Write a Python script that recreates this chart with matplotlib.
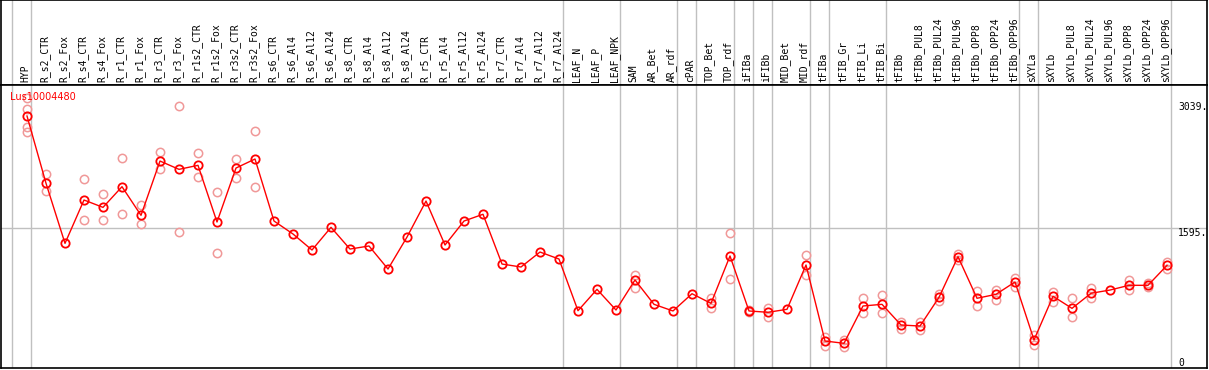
import matplotlib
matplotlib.use('Agg')
import matplotlib.pyplot as plt

# sample names (column headers)
samples = ['HYP', 'R_s2_CTR', 'R_s2_Fox', 'R_s4_CTR', 'R_s4_Fox', 'R_r1_CTR', 'R_r1_Fox',
           'R_r3_CTR', 'R_r3_Fox', 'R_r1s2_CTR', 'R_r1s2_Fox', 'R_r3s2_CTR', 'R_r3s2_Fox',
           'R_s6_CTR', 'R_s6_Al4', 'R_s6_Al12', 'R_s6_Al24', 'R_s8_CTR', 'R_s8_Al4', 'R_s8_Al12',
           'R_s8_Al24', 'R_r5_CTR', 'R_r5_Al4', 'R_r5_Al12', 'R_r5_Al24', 'R_r7_CTR', 'R_r7_Al4',
           'R_r7_Al12', 'R_r7_Al24', 'LEAF_N', 'LEAF_P', 'LEAF_NPK', 'SAM', 'AR_Bet', 'AR_rdf',
           'cPAR', 'TOP_Bet', 'TOP_rdf', 'iFIBa', 'iFIBb', 'MID_Bet', 'MID_rdf', 'tFIBa',
           'tFIB_Gr', 'tFIB_Li', 'tFIB_Bi', 'tFIBb', 'tFIBb_PUL8', 'tFIBb_PUL24', 'tFIBb_PUL96',
           'tFIBb_OPP8', 'tFIBb_OPP24', 'tFIBb_OPP96', 'sXYLa', 'sXYLb', 'sXYLb_PUL8',
           'sXYLb_PUL24', 'sXYLb_PUL96', 'sXYLb_OPP8', 'sXYLb_OPP24', 'sXYLb_OPP96']

# mean expression per sample
mean_expr = [2877, 2109, 1423, 1918, 1834, 2070, 1743, 2363, 2268, 2314, 1667, 2283, 2386,
             1678, 1530, 1347, 1606, 1358, 1393, 1130, 1495, 1906, 1404, 1678, 1755, 1187, 1153,
             1324, 1244, 654, 898, 662, 1005, 727, 651, 848, 738, 1279, 651, 636, 670, 1176,
             308, 282, 708, 727, 491, 479, 807, 1271, 796, 841, 982, 320, 819, 681, 853, 890,
             944, 944, 1172]

# individual replicates
replicates = [[3079, 2957, 2751, 2694], [2211, 2017], [], [2158, 1690], [1983, 1686],
              [2394, 1755], [1857, 1640], [2462, 2268], [2988, 1549], [2451, 2177],
              [2006, 1313], [2383, 2173], [2702, 2063],
              [], [], [], [], [], [], [], [], [], [], [], [], [], [], [], [],
              [], [], [], [1062, 917], [], [], [], [803, 681], [1538, 1013], [662, 640],
              [681, 586], [], [1290, 1058], [357, 255], [320, 243], [796, 624], [833, 624],
              [529, 442], [529, 434], [845, 765], [1301, 1233], [883, 708], [890, 776],
              [1024, 928], [377, 263], [871, 757], [796, 579], [910, 796], [], [1005, 890],
              [974, 921], [1214, 1127]]

# group separators (after these columns)
separators = [-1, 0, 28, 31, 34, 35, 37, 38, 39, 41, 42, 45, 52, 53, 60]
y_ticks = [3039, 1595, 0]
gene = 'Lus10004480'

W, H = 1209, 370
fig = plt.figure(figsize=(W / 100, H / 100), dpi=100)
fig.patch.set_facecolor('white')

x0 = -26 / 19
x1 = (1207 - 27) / 19
# header axes (0..85 px), plot axes (85..368 px)
axh = fig.add_axes([1 / W, (H - 85) / H, 1206 / W, 85 / H])
ax = fig.add_axes([1 / W, 2 / H, 1206 / W, 283 / H])

mono = 'DejaVu Sans Mono'
grey = '#c0c0c0'

for a in (axh, ax):
    a.set_xlim(x0, x1)
    a.set_xticks([])
    a.set_yticks([])
    for s in a.spines.values():
        s.set_color('black')
        s.set_linewidth(1.2)
    for s in separators:
        a.axvline(s + 0.21, color=grey, lw=1, zorder=0)

axh.set_ylim(0, 1)
for i, name in enumerate(samples):
    axh.text(i - 0.08, 0.03, name, rotation=90, ha='center', va='bottom',
             family=mono, fontsize=7)

ax.set_ylim(0, 3231)
ax.axhline(1595, color=grey, lw=1, zorder=0)

xs = list(range(len(samples)))
rx, ry = [], []
for i, reps in enumerate(replicates):
    for v in reps:
        rx.append(i)
        ry.append(v)
ax.plot(rx, ry, 'o', ms=6, mfc='none', mec='#f09898', mew=1.1, zorder=2)
ax.plot(xs, mean_expr, '-', color='red', lw=1, zorder=3)
ax.plot(xs, mean_expr, 'o', ms=6, mfc='none', mec='red', mew=1.3, zorder=4)

trans = ax.get_yaxis_transform()
for v in y_ticks:
    label = str(v) + '.' if v else str(v)
    ax.text(0.976, v, label, transform=trans, ha='left',
            va='top' if v else 'bottom', family=mono, fontsize=7)

ax.text(0.0075, 0.975, gene, transform=ax.transAxes, ha='left', va='top',
        color='red', fontsize=7)

fig.savefig('out.png', dpi=100)
